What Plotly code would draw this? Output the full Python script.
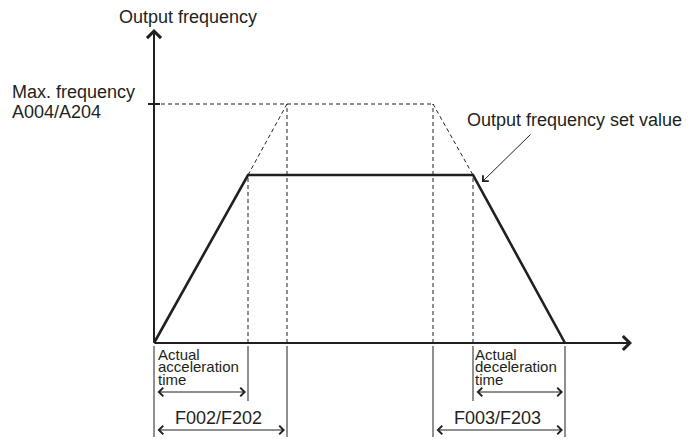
import plotly.graph_objects as go

INK = "#231f20"
FONT = "Liberation Sans, Arial, sans-serif"

# time / frequency values (origin at the axes crossing)
t_actual = [0, 94, 319, 411]
f_actual = [0, 168, 168, 0]
T_ACC_ACTUAL, T_ACC_SET, T_DEC_SET, T_DEC_ACTUAL, T_END = 94, 133, 279, 319, 411
F_SET, F_MAX = 168, 239
X_AXIS_END, Y_AXIS_END = 478, 314

# dashed construction lines of the set ramp
ramp_up_t = [T_ACC_ACTUAL, T_ACC_SET]
ramp_up_f = [F_SET, F_MAX]
max_t = [0, T_DEC_SET]
max_f = [F_MAX, F_MAX]
ramp_dn_t = [T_DEC_SET, T_DEC_ACTUAL]
ramp_dn_f = [F_MAX, F_SET]
guide_times = [T_ACC_ACTUAL, T_ACC_SET, T_DEC_SET, T_DEC_ACTUAL]
guide_tops = [F_SET, F_MAX, F_MAX, F_SET]

# dimension lines below the time axis
long_marks = [0, T_ACC_SET, T_DEC_SET, T_END]
short_marks = [T_ACC_ACTUAL, T_DEC_ACTUAL]
LONG_DEPTH, SHORT_DEPTH = -94, -58
ARROW_ACTUAL, ARROW_SET = -49, -87

# page body has an 8px margin, so the origin sits at (146, 335) in figure px
OX, OY = 146, 335

fig = go.Figure()


def seg(x, y, width=1, dash="solid"):
    fig.add_trace(go.Scatter(x=x, y=y, mode="lines", hoverinfo="skip",
                             line=dict(color=INK, width=width, dash=dash)))


dash = "4px,3px"
seg(ramp_up_t, ramp_up_f, dash=dash)
seg(max_t, max_f, dash=dash)
seg(ramp_dn_t, ramp_dn_f, dash=dash)
for t, top in zip(guide_times, guide_tops):
    seg([t, t], [0, top], dash=dash)

for t in long_marks:
    seg([t, t], [-3, LONG_DEPTH])
for t in short_marks:
    seg([t, t], [-3, SHORT_DEPTH])

# max frequency tick
seg([-6, 6], [F_MAX, F_MAX], width=2)

# actual output frequency
seg(t_actual, f_actual, width=2.6)

anns = []


def arrow(x, y, ax, ay, width=1, size=1.7, both=False):
    anns.append(dict(x=x, y=y, ax=ax, ay=ay, xref="x", yref="y", axref="x", ayref="y",
                     text="", showarrow=True, arrowhead=4, startarrowhead=4,
                     arrowside="end+start" if both else "end",
                     arrowwidth=width, arrowsize=size, startarrowsize=size,
                     arrowcolor=INK, standoff=0, startstandoff=0))


# axes
arrow(0, Y_AXIS_END, 0, -1, width=2, size=1.35)
arrow(X_AXIS_END, 0, -1, 0, width=2, size=1.35)

# time spans
arrow(T_ACC_ACTUAL - 2, ARROW_ACTUAL, 2, ARROW_ACTUAL, both=True)
arrow(T_ACC_SET - 2, ARROW_SET, 2, ARROW_SET, both=True)
arrow(T_END - 2, ARROW_ACTUAL, T_DEC_ACTUAL + 2, ARROW_ACTUAL, both=True)
arrow(T_END - 2, ARROW_SET, T_DEC_SET + 2, ARROW_SET, both=True)

# pointer to set value
arrow(T_DEC_ACTUAL + 9, F_SET - 7, 378, 210, size=1.6)


def label(x, y, text, size=18, xanchor="left"):
    anns.append(dict(x=x, y=y, xref="x", yref="y", text=text, showarrow=False,
                     xanchor=xanchor, yanchor="middle", borderpad=0,
                     font=dict(family=FONT, size=size, color=INK)))


label(34, 326, "Output frequency", xanchor="center")
label(-143, 251, "Max. frequency")
label(-143, 231, "A004/A204")
label(312, 223, "Output frequency set value")
label(64, -75, "F002/F202", xanchor="center")
label(343, -75, "F003/F203", xanchor="center")
for i, line in enumerate(["Actual", "acceleration", "time"]):
    label(3, -11 - 12.5 * i, line, size=15)
for i, line in enumerate(["Actual", "deceleration", "time"]):
    label(320, -11 - 12.5 * i, line, size=15)

fig.update_layout(
    width=691, height=439,
    margin=dict(l=0, r=0, t=0, b=0),
    plot_bgcolor="white", paper_bgcolor="white",
    showlegend=False,
    annotations=anns,
    xaxis=dict(range=[-OX, 691 - OX], visible=False, fixedrange=True),
    yaxis=dict(range=[OY - 439, OY], visible=False, fixedrange=True),
)

fig.write_html("out.html", config={"displayModeBar": False})
